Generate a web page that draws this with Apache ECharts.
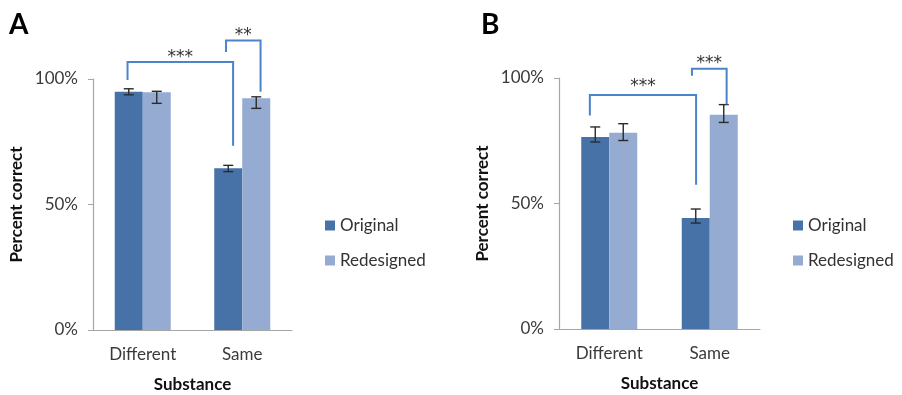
<!DOCTYPE html>
<html>
<head>
<meta charset="utf-8">
<script src="https://cdn.jsdelivr.net/npm/echarts@6/dist/echarts.min.js"></script>
<style>html,body{margin:0;padding:0;background:#fff}#c{width:902px;height:395px}</style>
</head>
<body>
<div id="c"></div>
<script>
// ---- data ----
const categories = ['Different', 'Same'];
const seriesNames = ['Original', 'Redesigned'];
const panelLabels = ['A', 'B'];
const yTickValues = [0, 50, 100];

const aOriginal = [94.9, 64.4];
const aRedesigned = [94.7, 92.3];
const aOriginalErr = [[93.7, 96.1], [63.1, 65.6]];
const aRedesignedErr = [[90.3, 95.1], [88.3, 92.9]];

const bOriginal = [76.5, 44.2];
const bRedesigned = [78.2, 85.4];
const bOriginalErr = [[74.5, 80.5], [42.2, 47.8]];
const bRedesignedErr = [[75.1, 81.8], [82.3, 89.4]];

// brackets: [xLeft, xRight (category units), yTop, yLeftEnd, yRightEnd, labelY, label]
const aBrackets = [
  [-0.153, 0.908, 106.8, 99.6, 73.4, 110.0, '***'],
  [0.837, 1.184, 115.3, 110.8, 94.9, 118.7, '**']
];
const bBrackets = [
  [-0.193, 0.864, 93.2, 85.1, 57.5, 98.0, '***'],
  [0.823, 1.168, 103.7, 100.9, 89.4, 107.3, '***']
];

// ---- styles ----
const FONT = 'Lato, "Noto Sans", sans-serif';
const STAR_FONT = '"DejaVu Sans", sans-serif';
const C_ORIG = '#4672A8';
const C_RED = '#95ABD2';
const C_BRACKET = '#4A84CB';
const C_AXIS = '#A6A6A6';
const BAR_W = 28;

const chart = echarts.init(document.getElementById('c'));

const grids = [
  { left: 93, top: 79, width: 199, height: 251, outerBoundsMode: 'none', containLabel: false },
  { left: 559, top: 78, width: 201, height: 251, outerBoundsMode: 'none', containLabel: false }
];

function errorSeries(gridIdx, errs, side) {
  return {
    type: 'custom',
    xAxisIndex: gridIdx,
    yAxisIndex: gridIdx,
    silent: true,
    z: 10,
    data: errs.map((e, i) => [i, e[0], e[1]]),
    renderItem: function (params, api) {
      const lo = api.coord([api.value(0), api.value(1)]);
      const hi = api.coord([api.value(0), api.value(2)]);
      const x = lo[0] + side * BAR_W / 2;
      const cap = 5;
      const st = { stroke: '#2b2b2b', lineWidth: 1.4 };
      return {
        type: 'group',
        children: [
          { type: 'line', shape: { x1: x, y1: lo[1], x2: x, y2: hi[1] }, style: st },
          { type: 'line', shape: { x1: x - cap, y1: lo[1], x2: x + cap, y2: lo[1] }, style: st },
          { type: 'line', shape: { x1: x - cap, y1: hi[1], x2: x + cap, y2: hi[1] }, style: st }
        ]
      };
    }
  };
}

function bracketSeries(gridIdx, brackets) {
  return {
    type: 'custom',
    xAxisIndex: 2 + gridIdx,
    yAxisIndex: gridIdx,
    silent: true,
    clip: false,
    z: 11,
    data: brackets.map(b => [b[0], b[1], b[2], b[3], b[4], b[5]]),
    renderItem: function (params, api) {
      const b = brackets[params.dataIndex];
      const pL = api.coord([api.value(0), api.value(3)]);
      const pLT = api.coord([api.value(0), api.value(2)]);
      const pRT = api.coord([api.value(1), api.value(2)]);
      const pR = api.coord([api.value(1), api.value(4)]);
      const pT = api.coord([(api.value(0) + api.value(1)) / 2, api.value(5)]);
      return {
        type: 'group',
        children: [
          {
            type: 'polyline',
            shape: { points: [pL, pLT, pRT, pR] },
            style: { stroke: C_BRACKET, lineWidth: 2, fill: null }
          },
          {
            type: 'text',
            x: pT[0], y: pT[1] + 4,
            style: {
              text: b[6], fill: '#333', font: '17px ' + STAR_FONT,
              align: 'center', verticalAlign: 'middle'
            }
          }
        ]
      };
    }
  };
}

const xAxes = [];
const yAxes = [];
for (let g = 0; g < 2; g++) {
  xAxes.push({
    type: 'category', gridIndex: g, data: categories,
    axisLine: { onZero: false, lineStyle: { color: C_AXIS, width: 1.2 } },
    axisTick: { show: false },
    axisLabel: { color: '#3a3a3a', fontFamily: FONT, fontSize: 17, margin: 16 },
    name: 'Substance', nameLocation: 'middle', nameGap: 46,
    nameTextStyle: { fontFamily: FONT, fontSize: 17, fontWeight: 'bold', color: '#111' }
  });
  yAxes.push({
    type: 'value', gridIndex: g, min: 0, max: 100, interval: 50,
    axisLine: { show: true, onZero: false, lineStyle: { color: C_AXIS, width: 1.2 } },
    axisTick: { show: true, length: 5, lineStyle: { color: C_AXIS } },
    splitLine: { show: false },
    axisLabel: {
      color: '#3a3a3a', fontFamily: FONT, fontSize: 17, margin: 15,
      formatter: v => (yTickValues.indexOf(v) >= 0 ? v + '%' : '')
    },
    name: 'Percent correct', nameLocation: 'middle', nameRotate: 90, nameGap: 68,
    nameTextStyle: { fontFamily: FONT, fontSize: 17, fontWeight: 'bold', color: '#111' }
  });
}
for (let g = 0; g < 2; g++) {
  xAxes.push({ type: 'value', gridIndex: g, min: -0.5, max: 1.5, show: false });
}

const option = {
  animation: false,
  backgroundColor: '#fff',
  grid: grids,
  xAxis: xAxes,
  yAxis: yAxes,
  legend: [
    {
      orient: 'vertical', left: 320, top: 210, itemWidth: 10, itemHeight: 10, itemGap: 14,
      icon: 'rect', data: seriesNames, selectedMode: false,
      textStyle: { fontFamily: FONT, fontSize: 17, color: '#333', lineHeight: 21 }
    },
    {
      orient: 'vertical', left: 788, top: 210, itemWidth: 10, itemHeight: 10, itemGap: 14,
      icon: 'rect', data: seriesNames, selectedMode: false,
      textStyle: { fontFamily: FONT, fontSize: 17, color: '#333', lineHeight: 21 }
    }
  ],
  graphic: [
    { type: 'text', left: 9, top: 11, style: { text: panelLabels[0], font: 'bold 28px ' + FONT, fill: '#000' } },
    { type: 'text', left: 481, top: 11, style: { text: panelLabels[1], font: 'bold 28px ' + FONT, fill: '#000' } }
  ],
  series: [
    { name: seriesNames[0], type: 'bar', xAxisIndex: 0, yAxisIndex: 0, data: aOriginal, barWidth: BAR_W, barGap: '0%', itemStyle: { color: C_ORIG } },
    { name: seriesNames[1], type: 'bar', xAxisIndex: 0, yAxisIndex: 0, data: aRedesigned, barWidth: BAR_W, barGap: '0%', itemStyle: { color: C_RED } },
    { name: seriesNames[0], type: 'bar', xAxisIndex: 1, yAxisIndex: 1, data: bOriginal, barWidth: BAR_W, barGap: '0%', itemStyle: { color: C_ORIG } },
    { name: seriesNames[1], type: 'bar', xAxisIndex: 1, yAxisIndex: 1, data: bRedesigned, barWidth: BAR_W, barGap: '0%', itemStyle: { color: C_RED } },
    errorSeries(0, aOriginalErr, -1),
    errorSeries(0, aRedesignedErr, 1),
    errorSeries(1, bOriginalErr, -1),
    errorSeries(1, bRedesignedErr, 1),
    bracketSeries(0, aBrackets),
    bracketSeries(1, bBrackets)
  ]
};
chart.setOption(option);
</script>
</body>
</html>
